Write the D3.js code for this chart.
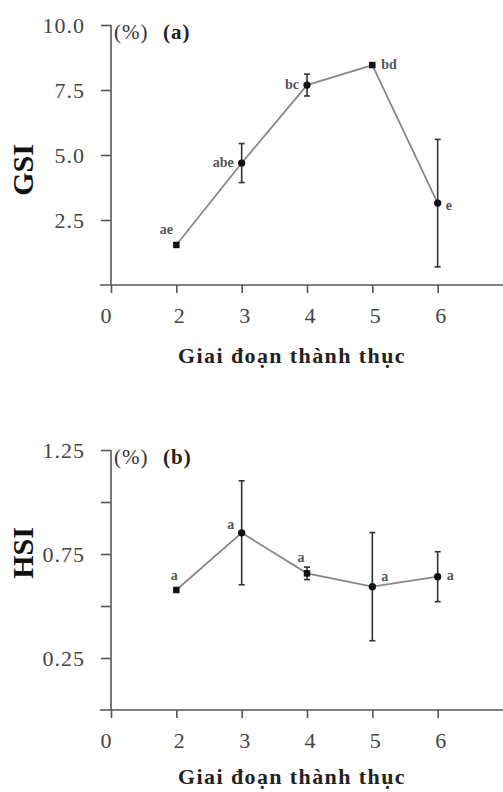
<!DOCTYPE html>
<html>
<head>
<meta charset="utf-8">
<script src="https://cdn.jsdelivr.net/npm/d3@7"></script>
<style>
  body { margin: 0; background: #fff; }
  svg { display: block; }
  text { font-family: "Liberation Serif", "DejaVu Serif", serif; }
</style>
</head>
<body>
<svg width="503" height="792"></svg>
<script>
// giai đoạn thành thục (trục x: 0 rồi 2..6)
const xLabels = ["0", "2", "3", "4", "5", "6"];
const stagePos = [1, 2, 3, 4, 5];

// (a) GSI
const gsi = [1.54, 4.69, 7.69, 8.46, 3.15];
const gsiErr = [0, 0.75, 0.42, 0, 2.45];
const gsiLetters = ["ae", "abe", "bc", "bd", "e"];
const gsiShape = ["square", "circle", "circle", "square", "circle"];
const gsiTicks = [2.5, 5.0, 7.5, 10.0];

// (b) HSI
const hsi = [0.577, 0.852, 0.657, 0.593, 0.641];
const hsiErr = [0, 0.25, 0.03, 0.26, 0.12];
const hsiLetters = ["a", "a", "a", "a", "a"];
const hsiShape = ["square", "circle", "square", "circle", "circle"];
const hsiTicks = [0.25, 0.5, 0.75, 1.0, 1.25];
const hsiLabelled = [0.25, 0.75, 1.25];

// vị trí chữ cái so với điểm
const gsiOff = [[-10, -15, "middle"], [-8, 0, "end"], [-8, 0, "end"], [9, 0, "start"], [8, 3, "start"]];
const hsiOff = [[-2, -14, "middle"], [-11, -8, "middle"], [-6, -15, "middle"], [9, -10, "start"], [9, -1, "start"]];

const svg = d3.select("svg");

function panel(cfg) {
  const x = d3.scaleLinear().domain([0, 6]).range([111, 503]);
  const y = d3.scaleLinear().domain([0, cfg.ymax]).range([cfg.bottom, cfg.top]);
  const g = svg.append("g");

  // trục y
  const ya = g.append("g")
    .attr("transform", "translate(111,0)")
    .call(d3.axisLeft(y).tickValues(cfg.ticks).tickSize(10).tickPadding(16)
      .tickFormat(d => cfg.labelled.includes(d) ? cfg.fmt(d) : ""));
  ya.select(".domain").attr("d", `M0,${cfg.bottom}V${cfg.top}`);

  // trục x
  const xa = g.append("g")
    .attr("transform", `translate(0,${cfg.bottom})`)
    .call(d3.axisBottom(x).tickValues([0, 1, 2, 3, 4, 5]).tickSize(8).tickPadding(14)
      .tickFormat((d, i) => xLabels[i]));
  xa.select(".domain").attr("d", "M100,0H503");
  xa.selectAll(".tick text").attr("dx", (d, i) => i === 0 ? -5 : 3);

  g.selectAll(".domain, .tick line").attr("stroke", "#555").attr("stroke-width", 1.6);
  g.selectAll(".tick text").attr("font-size", 22).attr("fill", "#444")
    .attr("letter-spacing", 1);

  // nhãn trục
  g.append("text").attr("x", 292).attr("y", cfg.bottom + cfg.titleDy)
    .attr("text-anchor", "middle").attr("font-weight", "bold").attr("font-size", 22)
    .attr("letter-spacing", 1.4).attr("fill", "#222").text("Giai đoạn thành thục");
  g.append("text").attr("transform", `translate(33,${cfg.ymid}) rotate(-90)`)
    .attr("text-anchor", "middle").attr("font-weight", "bold").attr("font-size", 30)
    .attr("fill", "#111").text(cfg.name);
  g.append("text").attr("x", 114).attr("y", cfg.top + 14)
    .attr("font-size", 21).attr("letter-spacing", 1).attr("fill", "#333").text("(%)");
  g.append("text").attr("x", 163).attr("y", cfg.top + 14)
    .attr("font-size", 21).attr("letter-spacing", 1).attr("font-weight", "bold")
    .attr("fill", "#222").text(cfg.tag);

  const pts = stagePos.map((p, i) => ({ p, v: cfg.vals[i], e: cfg.err[i], s: cfg.shape[i], t: cfg.letters[i], o: cfg.off[i] }));

  // đường nối
  g.append("path").datum(pts)
    .attr("fill", "none").attr("stroke", "#888").attr("stroke-width", 1.8)
    .attr("d", d3.line().x(d => x(d.p)).y(d => y(d.v)));

  // thanh sai số
  const eb = g.selectAll(".eb").data(pts.filter(d => d.e > 0)).enter().append("g")
    .attr("stroke", "#333").attr("stroke-width", 1.6);
  eb.append("line").attr("x1", d => x(d.p)).attr("x2", d => x(d.p))
    .attr("y1", d => y(d.v + d.e)).attr("y2", d => y(d.v - d.e));
  eb.append("line").attr("x1", d => x(d.p) - 3).attr("x2", d => x(d.p) + 3)
    .attr("y1", d => y(d.v + d.e)).attr("y2", d => y(d.v + d.e));
  eb.append("line").attr("x1", d => x(d.p) - 3).attr("x2", d => x(d.p) + 3)
    .attr("y1", d => y(d.v - d.e)).attr("y2", d => y(d.v - d.e));

  // điểm
  g.selectAll(".pt").data(pts).enter().append("path")
    .attr("transform", d => `translate(${x(d.p)},${y(d.v)})`)
    .attr("d", d => d3.symbol(d.s === "square" ? d3.symbolSquare : d3.symbolCircle, 42)())
    .attr("fill", "#111");

  // chữ cái
  g.selectAll(".lt").data(pts).enter().append("text")
    .attr("x", d => x(d.p) + d.o[0]).attr("y", d => y(d.v) + d.o[1] + 4)
    .attr("text-anchor", d => d.o[2]).attr("font-size", 14).attr("font-weight", "bold")
    .attr("fill", "#555").text(d => d.t);
}

panel({ name: "GSI", tag: "(a)", ymax: 10, top: 25, bottom: 285, ymid: 170, titleDy: 78,
  ticks: gsiTicks, labelled: gsiTicks, fmt: d3.format(".1f"),
  vals: gsi, err: gsiErr, shape: gsiShape, letters: gsiLetters, off: gsiOff });

panel({ name: "HSI", tag: "(b)", ymax: 1.25, top: 450, bottom: 710, ymid: 553, titleDy: 74,
  ticks: hsiTicks, labelled: hsiLabelled, fmt: d3.format(".2f"),
  vals: hsi, err: hsiErr, shape: hsiShape, letters: hsiLetters, off: hsiOff });
</script>
</body>
</html>
